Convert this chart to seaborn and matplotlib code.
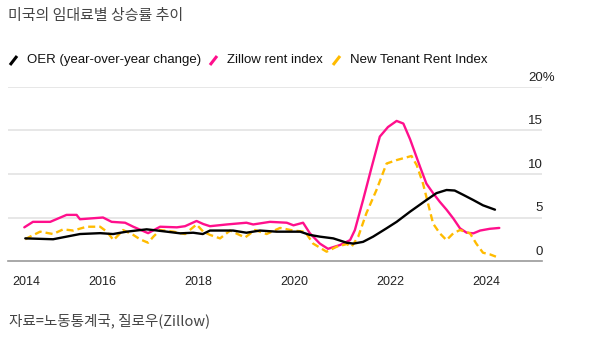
import matplotlib
matplotlib.use("Agg")
import matplotlib.pyplot as plt
import seaborn as sns
import pandas as pd
from matplotlib.lines import Line2D

# ---- data (decimal years, percent) ----
oer_x = [2014.40, 2014.98, 2015.26, 2015.54, 2015.96, 2016.23, 2016.51, 2016.93, 2017.06,
         2017.35, 2017.63, 2017.90, 2018.10, 2018.25, 2018.73, 2019.01, 2019.29, 2019.64,
         2020.13, 2020.33, 2020.54, 2020.82, 2021.10, 2021.24, 2021.44, 2021.65, 2021.93,
         2022.14, 2022.42, 2022.76, 2022.97, 2023.18, 2023.35, 2023.53, 2023.74, 2023.94,
         2024.19]
oer_y = [2.6, 2.5, 2.8, 3.1, 3.2, 3.1, 3.37, 3.64, 3.56,
         3.37, 3.18, 3.25, 3.1, 3.5, 3.5, 3.25, 3.5, 3.37,
         3.37, 3.0, 2.8, 2.6, 2.1, 2.0, 2.2, 2.8, 3.76,
         4.5, 5.67, 7.0, 7.8, 8.16, 8.1, 7.6, 7.0, 6.4,
         5.9]

zillow_x = [2014.38, 2014.56, 2014.92, 2015.26, 2015.47, 2015.54, 2016.02, 2016.20, 2016.48,
            2016.65, 2016.96, 2017.21, 2017.56, 2017.73, 2017.97, 2018.11, 2018.25, 2018.60,
            2019.01, 2019.15, 2019.50, 2019.85, 2019.99, 2020.19, 2020.33, 2020.54, 2020.71,
            2020.96, 2021.17, 2021.27, 2021.44, 2021.62, 2021.79, 2021.96, 2022.14, 2022.28,
            2022.42, 2022.63, 2022.76, 2022.90, 2023.04, 2023.18, 2023.32, 2023.46, 2023.60,
            2023.74, 2023.88, 2024.08, 2024.28]
zillow_y = [3.87, 4.5, 4.5, 5.3, 5.3, 4.8, 5.0, 4.5, 4.4,
            3.94, 3.2, 3.94, 3.87, 4.0, 4.6, 4.25, 4.0, 4.2,
            4.4, 4.2, 4.5, 4.4, 4.1, 4.4, 3.2, 2.0, 1.4,
            1.84, 2.4, 3.56, 7.0, 10.8, 14.3, 15.4, 16.1, 15.8,
            14.0, 10.8, 8.9, 7.8, 6.8, 5.9, 4.9, 3.76, 3.25,
            3.18, 3.5, 3.7, 3.8]

ntri_x = [2014.40, 2014.50, 2014.71, 2014.98, 2015.19, 2015.40, 2015.68, 2015.96, 2016.10,
          2016.24, 2016.44, 2016.65, 2016.79, 2016.96, 2017.07, 2017.21, 2017.49, 2017.73,
          2017.97, 2018.11, 2018.25, 2018.46, 2018.67, 2018.98, 2019.19, 2019.43, 2019.71,
          2019.99, 2020.23, 2020.40, 2020.68, 2020.89, 2021.10, 2021.20, 2021.34, 2021.51,
          2021.72, 2021.93, 2022.14, 2022.45, 2022.56, 2022.69, 2022.80, 2022.90, 2023.04,
          2023.18, 2023.32, 2023.46, 2023.67, 2023.80, 2023.94, 2024.08, 2024.21]
ntri_y = [2.5, 2.8, 3.37, 3.1, 3.64, 3.5, 3.94, 3.94, 3.37,
          2.4, 3.56, 3.0, 2.5, 2.1, 2.8, 3.56, 3.37, 3.1,
          4.2, 3.37, 3.0, 2.6, 3.5, 2.7, 3.56, 3.1, 3.8,
          3.5, 3.37, 2.0, 1.07, 1.64, 1.95, 1.64, 2.8, 5.5,
          8.16, 11.2, 11.6, 12.07, 11.0, 8.9, 6.5, 4.3, 3.18,
          2.4, 3.18, 3.56, 3.18, 2.0, 0.95, 0.77, 0.5]

year_ticks = [2014.42, 2016, 2018, 2020, 2022, 2024]
year_labels = ["2014", "2016", "2018", "2020", "2022", "2024"]
y_ticks = [0, 5, 10, 15, 20]
y_labels = ["0", "5", "10", "15", "20%"]
series_names = ["OER (year-over-year change)", "Zillow rent index", "New Tenant Rent Index"]
colors = ["#000000", "#ff0f8c", "#ffbb00"]

title = "미국의 임대료별 상승률 추이"
source = "자료=노동통계국, 질로우(Zillow)"

# ---- plotting ----
sns.set_style("white")
plt.rcParams["font.family"] = ["Liberation Sans", "Noto Sans CJK KR", "DejaVu Sans"]

W, H = 600, 338
fig = plt.figure(figsize=(W / 100, H / 100), dpi=100)
ax = fig.add_axes([8 / W, 1 - 261 / H, 534 / W, (261 - 87) / H])

df_oer = pd.DataFrame({"x": oer_x, "y": oer_y})
df_z = pd.DataFrame({"x": zillow_x, "y": zillow_y})
df_n = pd.DataFrame({"x": ntri_x, "y": ntri_y})

lw = 1.7
sns.lineplot(data=df_z, x="x", y="y", color=colors[1], lw=lw, ax=ax, clip_on=False, zorder=3)
sns.lineplot(data=df_n, x="x", y="y", color=colors[2], lw=lw, ax=ax, clip_on=False,
             zorder=4, dashes=False, linestyle=(0, (3, 1.7)))
sns.lineplot(data=df_oer, x="x", y="y", color=colors[0], lw=lw, ax=ax, clip_on=False, zorder=5)

ax.set_xlim(2014.04, 2025.17)
ax.set_ylim(0, 20)
ax.set_xlabel("")
ax.set_ylabel("")
for s in ["top", "right", "left"]:
    ax.spines[s].set_visible(False)
ax.spines["bottom"].set_color("#9a9a9a")
ax.spines["bottom"].set_linewidth(1.2)

ax.set_xticks(year_ticks)
ax.set_xticklabels(year_labels, fontsize=9, color="#222222")
ax.tick_params(axis="x", direction="out", length=5, width=1, color="#9a9a9a", pad=6)
ax.set_yticks([])
for v in y_ticks[1:]:
    ax.axhline(v, color="#e3e3e3", lw=1.2, zorder=1)

for v, lab in zip(y_ticks, y_labels):
    if lab.endswith("%"):
        ax.text(2024.0 + (528 - 486) / 48.0, v + 0.4, lab, ha="left", va="bottom",
                fontsize=9.5, color="#222222")
    else:
        ax.text(2024.0 + (543 - 486) / 48.0, v + 0.4, lab, ha="right", va="bottom",
                fontsize=9.5, color="#222222")

# title and source
fig.text(8 / W, 1 - 16 / H, title, fontsize=10.8, color="#444444", va="center", ha="left",
         family=["Noto Sans CJK KR", "DejaVu Sans"])
fig.text(9 / W, 1 - 321 / H, source, fontsize=10.5, color="#444444", va="center", ha="left",
         family=["Noto Sans CJK KR", "DejaVu Sans"])

# legend (manual slashes)
leg_items = [(10, 27), (210, 227), (333, 350)]
for (mx, tx), name, c in zip(leg_items, series_names, colors):
    fig.add_artist(Line2D([mx / W, (mx + 7) / W], [1 - 65 / H, 1 - 56 / H],
                          color=c, lw=2.2, transform=fig.transFigure, solid_capstyle="butt"))
    fig.text(tx / W, 1 - 60 / H, name, fontsize=9.5, color="#111111", va="center", ha="left")

fig.savefig("out.png", dpi=100)
